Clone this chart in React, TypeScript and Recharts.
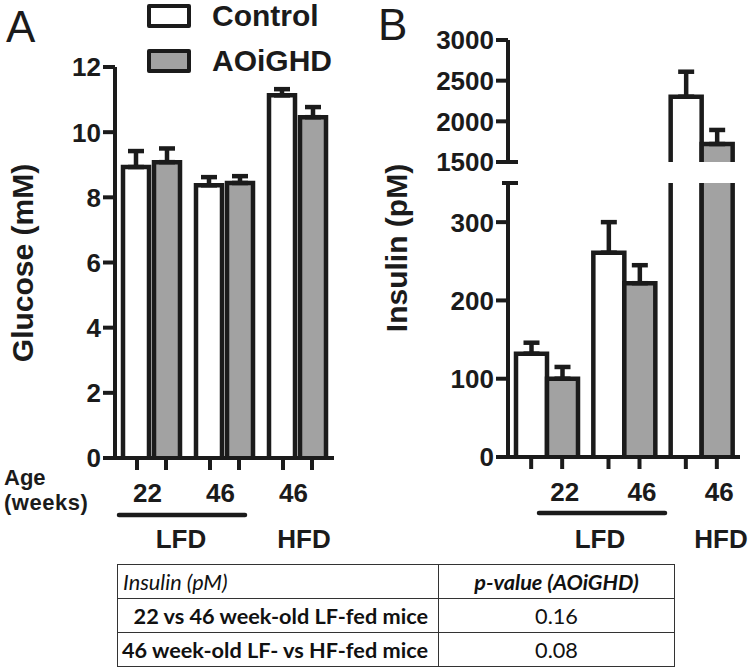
import { BarChart, Bar, XAxis, YAxis, ErrorBar } from 'recharts'

const categories = ['22 wk LFD', '46 wk LFD', '46 wk HFD']
const ageLabels = ['22', '46', '46']
const seriesNames = ['Control', 'AOiGHD']
const seriesFills = ['#ffffff', '#a2a2a2']

// glucose (mM), mean and upward SEM
const glucoseControl = [8.93, 8.37, 11.13]
const glucoseControlSem = [0.49, 0.25, 0.19]
const glucoseAoighd = [9.08, 8.44, 10.46]
const glucoseAoighdSem = [0.42, 0.21, 0.31]
const glucoseTicks = [0, 2, 4, 6, 8, 10, 12]

// insulin (pM)
const insulinControl = [132, 261, 2303]
const insulinControlSem = [14, 39, 307]
const insulinAoighd = [100, 222, 1721]
const insulinAoighdSem = [15, 23, 173]
const insulinLowTicks = [0, 100, 200, 300, 350]
const insulinHighTicks = [1500, 2000, 2500, 3000]
const LOW_MAX = 350
const HIGH_MIN = 1500

const tableHeader = ['Insulin (pM)', 'p-value (AOiGHD)']
const tableComparisons = ['22 vs 46 week-old LF-fed mice', '46 week-old LF- vs HF-fed mice']
const tablePValues = ['0.16', '0.08']

const INK = '#1b1b1b'
const FONT = '"Liberation Sans", Arial, sans-serif'
const STROKE = 4.5

const glucoseData = categories.map((name, i) => ({
  name,
  control: glucoseControl[i],
  controlErr: [0, glucoseControlSem[i]],
  aoighd: glucoseAoighd[i],
  aoighdErr: [0, glucoseAoighdSem[i]],
}))

const insulinHigh = categories.map((name, i) => ({
  name,
  control: insulinControl[i] >= HIGH_MIN ? insulinControl[i] : null,
  controlErr: insulinControl[i] >= HIGH_MIN ? [0, insulinControlSem[i]] : null,
  aoighd: insulinAoighd[i] >= HIGH_MIN ? insulinAoighd[i] : null,
  aoighdErr: insulinAoighd[i] >= HIGH_MIN ? [0, insulinAoighdSem[i]] : null,
}))

const insulinLow = categories.map((name, i) => ({
  name,
  control: insulinControl[i],
  controlErr: insulinControl[i] <= LOW_MAX ? [0, insulinControlSem[i]] : null,
  aoighd: insulinAoighd[i],
  aoighdErr: insulinAoighd[i] <= LOW_MAX ? [0, insulinAoighdSem[i]] : null,
}))

// bar with no bottom edge, so the broken axis shows open ends
function OpenBar(props: any) {
  const { x, y, width, height, fill } = props
  if (!(height > 0)) return null
  return (
    <g>
      <rect x={x} y={y} width={width} height={height} fill={fill} />
      <path
        d={`M${x},${y + height}V${y}H${x + width}V${y + height}`}
        fill="none"
        stroke={INK}
        strokeWidth={STROKE}
      />
    </g>
  )
}

function XTick(props: any) {
  const { x, y, payload, spread, dx } = props
  const i = payload?.index ?? props.index
  return (
    <g>
      <line x1={x - spread} x2={x - spread} y1={y} y2={y + 12} stroke={INK} strokeWidth={4} />
      <line x1={x + spread} x2={x + spread} y1={y} y2={y + 12} stroke={INK} strokeWidth={4} />
      <text
        x={x + dx}
        y={y + 44}
        textAnchor="middle"
        fontSize={26}
        fontWeight="bold"
        fill={INK}
        fontFamily={FONT}
      >
        {ageLabels[i]}
      </text>
    </g>
  )
}

// y tick; values in `breaks` get a tick on both sides of the axis
function YTick(props: any) {
  const { x, y, payload, breaks = [], hidden = [] } = props
  const v = payload.value
  const isBreak = breaks.includes(v)
  return (
    <g>
      <line x1={x - (hidden.includes(v) ? 6 : 12)} x2={x + (isBreak ? 10 : 0)} y1={y} y2={y} stroke={INK} strokeWidth={4} />
      {!hidden.includes(v) && (
        <text
          x={x - 14}
          y={y}
          dy="0.36em"
          textAnchor="end"
          fontSize={26}
          fontWeight="bold"
          fill={INK}
          fontFamily={FONT}
        >
          {v}
        </text>
      )}
    </g>
  )
}

function bars() {
  return [
    <Bar key="c" dataKey="control" name={seriesNames[0]} fill={seriesFills[0]} shape={<OpenBar />} isAnimationActive={false}>
      <ErrorBar dataKey="controlErr" direction="y" width={8} stroke={INK} strokeWidth={4.5} />
    </Bar>,
    <Bar key="a" dataKey="aoighd" name={seriesNames[1]} fill={seriesFills[1]} shape={<OpenBar />} isAnimationActive={false}>
      <ErrorBar dataKey="aoighdErr" direction="y" width={8} stroke={INK} strokeWidth={4.5} />
    </Bar>,
  ]
}

const axisLine = { stroke: INK, strokeWidth: 4 }
const cell = { border: '1.5px solid #333' }

export default function App() {
  const bold = { fontFamily: FONT, fontWeight: 'bold' as const, fill: INK }
  return (
    <div style={{ position: 'absolute', left: 0, top: 0, width: 750, height: 671, background: '#fff', fontFamily: FONT }}>
      {/* Panel A: glucose */}
      <div style={{ position: 'absolute', left: 0, top: 0 }}>
        <BarChart width={345} height={560} data={glucoseData} margin={{ top: 67, right: 11, left: 0, bottom: 0 }} barSize={26} barGap={5}>
          <XAxis dataKey="name" height={102} axisLine={axisLine} tickLine={false} tickSize={0} tickMargin={0} interval={0} tick={<XTick spread={14.5} dx={-4} />} />
          <YAxis width={115} domain={[0, 12]} ticks={glucoseTicks} interval={0} axisLine={axisLine} tickLine={false} tickSize={0} tickMargin={0} tick={<YTick />} />
          {bars()}
        </BarChart>
      </div>

      {/* Panel B: insulin, upper segment of broken axis */}
      <div style={{ position: 'absolute', left: 380, top: 0 }}>
        <BarChart width={370} height={182} data={insulinHigh} margin={{ top: 40, right: 10, left: 0, bottom: 20 }} barSize={31} barGap={0}>
          <XAxis dataKey="name" hide />
          <YAxis width={128} domain={[HIGH_MIN, 3000]} ticks={insulinHighTicks} interval={0} allowDataOverflow axisLine={axisLine} tickLine={false} tickSize={0} tickMargin={0} tick={<YTick breaks={[HIGH_MIN]} />} />
          {bars()}
        </BarChart>
      </div>

      {/* Panel B: lower segment */}
      <div style={{ position: 'absolute', left: 380, top: 0 }}>
        <BarChart width={370} height={560} data={insulinLow} margin={{ top: 183, right: 10, left: 0, bottom: 0 }} barSize={31} barGap={0}>
          <XAxis dataKey="name" height={103} axisLine={axisLine} tickLine={false} tickSize={0} tickMargin={0} interval={0} tick={<XTick spread={15.5} dx={18} />} />
          <YAxis width={128} domain={[0, LOW_MAX]} ticks={insulinLowTicks} interval={0} allowDataOverflow axisLine={axisLine} tickLine={false} tickSize={0} tickMargin={0} tick={<YTick breaks={[LOW_MAX]} hidden={[LOW_MAX]} />} />
          {bars()}
        </BarChart>
      </div>

      {/* annotations */}
      <svg width={750} height={671} style={{ position: 'absolute', left: 0, top: 0, pointerEvents: 'none' }}>
        <text x={6} y={42} fontSize={44} fontFamily={FONT} fill={INK}>A</text>
        <text x={378} y={40} fontSize={44} fontFamily={FONT} fill={INK}>B</text>
        <text transform="translate(22,263) rotate(-90)" textAnchor="middle" dominantBaseline="central" fontSize={30} {...bold}>Glucose (mM)</text>
        <text transform="translate(396,248) rotate(-90)" textAnchor="middle" dominantBaseline="central" fontSize={30} {...bold}>Insulin (pM)</text>
        <text x={4} y={485} fontSize={22} {...bold}>Age</text>
        <text x={4} y={510} fontSize={22} {...bold} letterSpacing={0.5}>(weeks)</text>
        <line x1={119} x2={245} y1={515} y2={515} stroke={INK} strokeWidth={4.5} strokeLinecap="round" />
        <line x1={539} x2={665} y1={513} y2={513} stroke={INK} strokeWidth={4.5} strokeLinecap="round" />
        <text x={181} y={548} textAnchor="middle" fontSize={26} {...bold}>LFD</text>
        <text x={304} y={548} textAnchor="middle" fontSize={26} {...bold}>HFD</text>
        <text x={600} y={548} textAnchor="middle" fontSize={26} {...bold}>LFD</text>
        <text x={721} y={548} textAnchor="middle" fontSize={26} {...bold}>HFD</text>
      </svg>

      {/* legend */}
      <div style={{ position: 'absolute', left: 147, top: 3 }}>
        {seriesNames.map((n, i) => (
          <div key={n} style={{ display: 'flex', alignItems: 'center', height: 25, marginBottom: 20 }}>
            <div style={{ width: 36, height: 16, border: `4.5px solid ${INK}`, borderRadius: 2, background: seriesFills[i] }} />
            <span style={{ marginLeft: 21, fontSize: 30, fontWeight: 'bold', color: INK, lineHeight: '25px' }}>{n}</span>
          </div>
        ))}
      </div>

      {/* p-value table */}
      <table
        style={{
          position: 'absolute',
          left: 117,
          top: 564,
          width: 558,
          borderCollapse: 'collapse',
          fontFamily: 'Lato, sans-serif',
          fontSize: 21.7,
          color: '#111',
        }}
      >
        <tbody>
          <tr style={{ height: 34 }}>
            <td style={{ ...cell, width: 310, padding: '0 5px', fontStyle: 'italic' }}>{tableHeader[0]}</td>
            <td style={{ ...cell, textAlign: 'center', fontStyle: 'italic', fontWeight: 'bold' }}>{tableHeader[1]}</td>
          </tr>
          {tableComparisons.map((c, i) => (
            <tr key={c} style={{ height: 34 }}>
              <td style={{ ...cell, padding: '0 10px 0 0', textAlign: 'right', fontWeight: 'bold' }}>{c}</td>
              <td style={{ ...cell, textAlign: 'center' }}>{tablePValues[i]}</td>
            </tr>
          ))}
        </tbody>
      </table>
    </div>
  )
}
